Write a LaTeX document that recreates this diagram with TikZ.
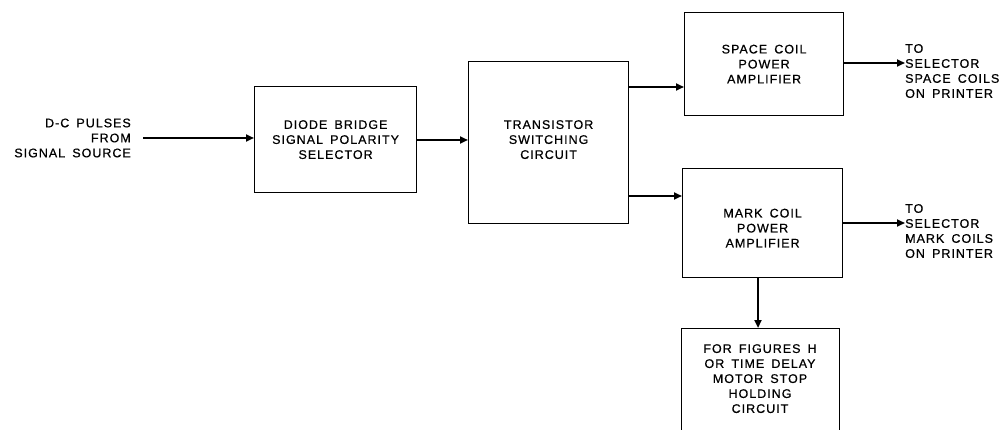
\documentclass[tikz,border=0pt]{standalone}
\usepackage{fontspec}
\setmainfont{Liberation Sans}[LetterSpace=8,FakeBold=0.6,WordSpace=1.6]
\usetikzlibrary{arrows.meta}
\begin{document}
\begin{tikzpicture}[x=1pt,y=-1pt,
  blk/.style={draw, line width=1.2pt, minimum width=#1, inner sep=0pt},
  txt/.style={font=\fontsize{12.5}{15}\selectfont, align=center, inner sep=0pt},
  arr/.style={line width=2pt, -{Triangle[length=8pt,width=7pt]}}]
\useasboundingbox (0,0) rectangle (1000,430);
\begin{scope}
\clip (0,0) rectangle (1000,430);
\node[blk=162pt, minimum height=106pt, anchor=north west] (diode) at (254,86) {};
\node[blk=160pt, minimum height=162pt, anchor=north west] (trans) at (468,61) {};
\node[blk=159pt, minimum height=103pt, anchor=north west] (space) at (684,12) {};
\node[blk=160pt, minimum height=109pt, anchor=north west] (mark) at (682,168) {};
\node[blk=158pt, minimum height=120pt, anchor=north west] (hold) at (681,328) {};
\end{scope}
\node[txt] at (diode.center) {DIODE BRIDGE\\SIGNAL POLARITY\\SELECTOR};
\node[txt] at ([yshift=3pt]trans.center) {TRANSISTOR\\SWITCHING\\CIRCUIT};
\node[txt] at ([yshift=0pt]space.center) {SPACE COIL\\POWER\\AMPLIFIER};
\node[txt] at ([yshift=-5pt]mark.center) {MARK COIL\\POWER\\AMPLIFIER};
\node[txt, anchor=north] (holdtxt) at (760,344) {FOR FIGURES H\\OR TIME DELAY\\MOTOR STOP\\HOLDING\\CIRCUIT};
\node[txt, align=right, anchor=east] (src) at (131,138) {D-C PULSES\\FROM\\SIGNAL SOURCE};
\node[txt, align=left, anchor=west] (spout) at (905,71) {TO\\SELECTOR\\SPACE COILS\\ON PRINTER};
\node[txt, align=left, anchor=west] (mkout) at (905,231) {TO\\SELECTOR\\MARK COILS\\ON PRINTER};
\coordinate (srcE) at (143,138);
\draw[arr] (srcE) -- (diode.west |- srcE);
\draw[arr] (416,140) -- (trans.west |- 0,140);
\draw[arr] (trans.east |- 0,87) -- (space.west |- 0,87);
\draw[arr] (trans.east |- 0,196) -- (mark.west |- 0,196);
\draw[arr] (space.east |- 0,63) -- (spout.west |- 0,63);
\draw[arr] (mark.east |- 0,223) -- (mkout.west |- 0,223);
\draw[arr] (mark.south -| 758,0) -- (hold.north -| 758,0);
\end{tikzpicture}
\end{document}
